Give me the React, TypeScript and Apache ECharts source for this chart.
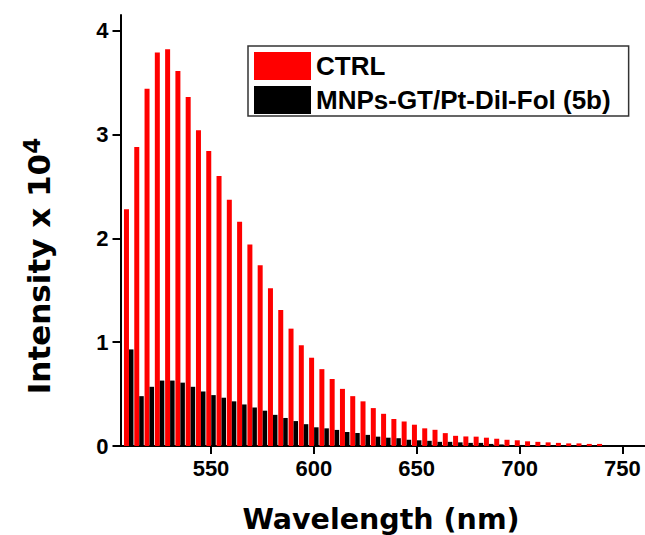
import React, { useEffect, useRef } from "react";
import * as echarts from "echarts";

const wavelengths = [
  510, 515, 520, 525, 530, 535, 540, 545, 550, 555, 560, 565, 570, 575, 580, 585,
  590, 595, 600, 605, 610, 615, 620, 625, 630, 635, 640, 645, 650, 655, 660, 665,
  670, 675, 680, 685, 690, 695, 700, 705, 710, 715, 720, 725, 730, 735, 740,
];

const ctrl = [
  2.28, 2.88, 3.44, 3.79, 3.82, 3.61, 3.36, 3.04, 2.84, 2.6, 2.37, 2.16, 1.94, 1.74, 1.52, 1.31,
  1.13, 0.97, 0.85, 0.74, 0.645, 0.55, 0.48, 0.43, 0.365, 0.31, 0.26, 0.236, 0.205, 0.17, 0.156, 0.124,
  0.098, 0.092, 0.09, 0.08, 0.07, 0.06, 0.055, 0.045, 0.04, 0.035, 0.03, 0.025, 0.025, 0.02, 0.02,
];

const mnps = [
  0.93, 0.48, 0.57, 0.63, 0.63, 0.61, 0.57, 0.525, 0.49, 0.465, 0.43, 0.4, 0.37, 0.34, 0.3, 0.27,
  0.24, 0.21, 0.18, 0.17, 0.155, 0.135, 0.125, 0.107, 0.09, 0.08, 0.075, 0.06, 0.055, 0.05, 0.04, 0.04,
  0.035, 0.03, 0.03, 0.02, 0.015, 0.01, 0.01, 0.005, 0.005, 0.005, 0.005, 0.005, 0.005, 0.005, 0.005,
];

const xTicks = [550, 600, 650, 700, 750];
const yTicks = [0, 1, 2, 3, 4];

const seriesNames = ["CTRL", "MNPs-GT/Pt-DiI-Fol (5b)"];

export default function App() {
  const ref = useRef<HTMLDivElement>(null);

  useEffect(() => {
    document.body.style.margin = "0";
    if (!ref.current) return;
    const chart = echarts.init(ref.current, undefined, { renderer: "svg" });
    const labelFont = {
      fontSize: 22,
      fontWeight: "bold" as const,
      fontFamily: "Liberation Sans, Arial, sans-serif",
      color: "#000",
    };
    const axisLineStyle = { color: "#000", width: 2 };
    chart.setOption({
      animation: false,
      backgroundColor: "#ffffff",
      grid: { left: 120.5, right: 0, top: 15, bottom: 89 },
      xAxis: {
        type: "value",
        min: 506,
        max: 761,
        axisLine: { show: true, lineStyle: axisLineStyle },
        axisTick: { show: true, customValues: xTicks, length: 8, lineStyle: axisLineStyle },
        axisLabel: { ...labelFont, customValues: xTicks, margin: 11 },
        splitLine: { show: false },
      },
      yAxis: {
        type: "value",
        min: 0,
        max: 4.15,
        interval: 1,
        axisLine: { show: true, lineStyle: axisLineStyle },
        axisTick: { show: true, customValues: yTicks, length: 8, lineStyle: axisLineStyle },
        axisLabel: { ...labelFont, customValues: yTicks, margin: 12 },
        splitLine: { show: false },
      },
      legend: {
        left: 248,
        top: 46,
        orient: "vertical",
        icon: "rect",
        itemWidth: 57,
        itemHeight: 28,
        itemGap: 6,
        padding: [6, 18, 2, 6],
        borderColor: "#333",
        borderWidth: 1.5,
        selectedMode: false,
        textStyle: {
          fontSize: 26,
          fontWeight: "bold",
          fontFamily: "Liberation Sans, Arial, sans-serif",
          color: "#000",
        },
        data: seriesNames,
      },
      series: [
        {
          type: "bar",
          name: seriesNames[0],
          data: wavelengths.map((w, i) => [w, ctrl[i]]),
          barWidth: 5,
          barGap: "0%",
          itemStyle: { color: "#ff0000" },
        },
        {
          type: "bar",
          name: seriesNames[1],
          data: wavelengths.map((w, i) => [w, mnps[i]]),
          barWidth: 4.5,
          barGap: "0%",
          itemStyle: { color: "#000000" },
        },
      ],
      graphic: [
        {
          type: "text",
          x: 39,
          y: 266,
          rotation: Math.PI / 2,
          style: {
            text: "{a|Intensity x 10}{s|4}",
            align: "center",
            verticalAlign: "middle",
            rich: {
              a: {
                fontSize: 31,
                fontWeight: "bold",
                fontFamily: "DejaVu Sans, sans-serif",
                fill: "#000",
                color: "#000",
                lineHeight: 38,
              },
              s: {
                fontSize: 23,
                fontWeight: "bold",
                fontFamily: "DejaVu Sans, sans-serif",
                fill: "#000",
                color: "#000",
                verticalAlign: "top",
                lineHeight: 38,
              },
            },
          },
        },
        {
          type: "text",
          x: 381,
          y: 519,
          style: {
            text: "Wavelength (nm)",
            align: "center",
            verticalAlign: "middle",
            fontSize: 28.5,
            fontWeight: "bold",
            fontFamily: "DejaVu Sans, sans-serif",
            fill: "#000",
          },
        },
      ],
    });
    return () => chart.dispose();
  }, []);

  return (
    <div
      ref={ref}
      style={{ position: "absolute", left: 0, top: 0, width: 645, height: 535 }}
    />
  );
}
